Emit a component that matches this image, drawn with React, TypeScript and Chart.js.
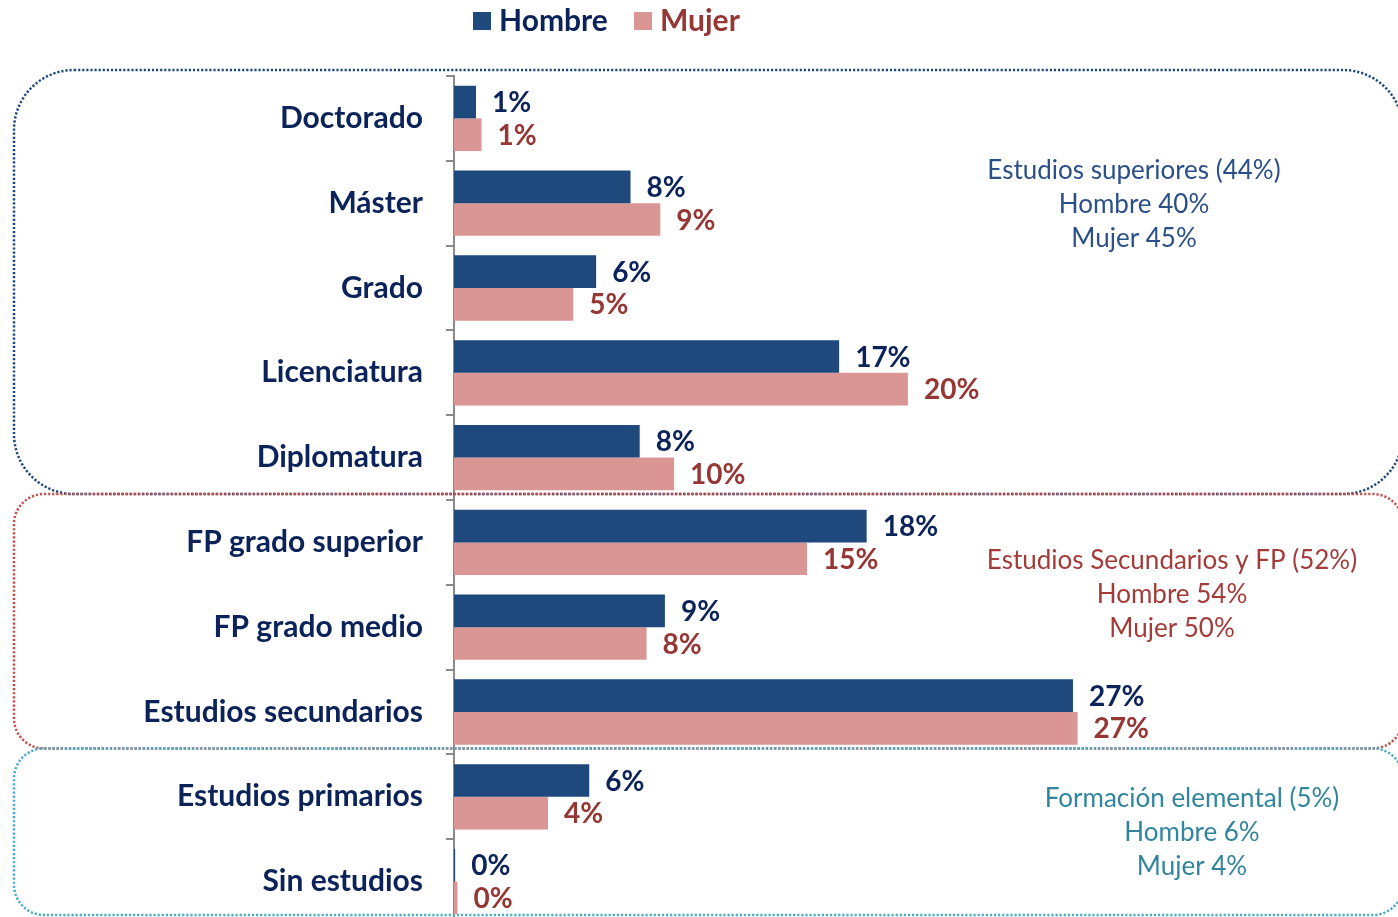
import React, { useEffect, useRef } from "react";
import { Chart, registerables } from "chart.js";
Chart.register(...registerables);

const categories = [
  "Doctorado",
  "Máster",
  "Grado",
  "Licenciatura",
  "Diplomatura",
  "FP grado superior",
  "FP grado medio",
  "Estudios secundarios",
  "Estudios primarios",
  "Sin estudios",
];
const seriesNames = ["Hombre", "Mujer"];
const hombre = [0.96, 7.7, 6.2, 16.8, 8.1, 18.0, 9.2, 27.0, 5.9, 0.05];
const mujer = [1.2, 9.0, 5.2, 19.8, 9.6, 15.4, 8.4, 27.2, 4.1, 0.15];

const groupTexts = [
  ["Estudios superiores (44%)", "Hombre 40%", "Mujer 45%"],
  ["Estudios Secundarios y FP (52%)", "Hombre 54%", "Mujer 50%"],
  ["Formación elemental (5%)", "Hombre 6%", "Mujer 4%"],
];
const groupRanges = [
  [0, 4],
  [5, 7],
  [8, 9],
];

const BAR_COLORS = ["#1F497D", "#D99694"];
const LABEL_COLORS = ["#0B2359", "#953735"];
const CAT_COLOR = "#0B2359";
const BOX_COLORS = ["#1F497D", "#C0504D", "#4BACC6"];
const TEXT_COLORS = ["#2A5087", "#A33B39", "#31859C"];
const BOX_RADII = [60, 30, 30];
const TEXT_POS = [
  [1134, 205],
  [1172, 595],
  [1192, 833],
];
const FONT = "Lato, 'Open Sans', sans-serif";

function roundRect(ctx: CanvasRenderingContext2D, x: number, y: number, w: number, h: number, r: number) {
  ctx.beginPath();
  ctx.moveTo(x + r, y);
  ctx.lineTo(x + w - r, y);
  ctx.arcTo(x + w, y, x + w, y + r, r);
  ctx.lineTo(x + w, y + h - r);
  ctx.arcTo(x + w, y + h, x + w - r, y + h, r);
  ctx.lineTo(x + r, y + h);
  ctx.arcTo(x, y + h, x, y + h - r, r);
  ctx.lineTo(x, y + r);
  ctx.arcTo(x, y, x + r, y, r);
  ctx.closePath();
}

const decorPlugin = {
  id: "decor",
  beforeDatasetsDraw(chart: any) {
    const ctx = chart.ctx as CanvasRenderingContext2D;
    const ys = chart.scales.y;
    const n = categories.length;
    const step = (ys.bottom - ys.top) / n;
    groupRanges.forEach((rg, i) => {
      const top = ys.top + rg[0] * step - 6;
      const bottom = Math.min(ys.top + (rg[1] + 1) * step - 6, 915);
      ctx.save();
      ctx.strokeStyle = BOX_COLORS[i];
      ctx.lineWidth = 2.5;
      ctx.lineCap = "butt";
      ctx.setLineDash([2.2, 1.9]);
      roundRect(ctx, 14, top, 1403 - 14, bottom - top, BOX_RADII[i]);
      ctx.stroke();
      ctx.restore();
    });
    groupTexts.forEach((lines, i) => {
      ctx.save();
      ctx.fillStyle = TEXT_COLORS[i];
      ctx.font = `26px ${FONT}`;
      ctx.textAlign = "center";
      ctx.textBaseline = "middle";
      lines.forEach((t, j) => {
        ctx.fillText(t, TEXT_POS[i][0], TEXT_POS[i][1] + (j - 1) * 34);
      });
      ctx.restore();
    });
  },
  afterDatasetsDraw(chart: any) {
    const ctx = chart.ctx as CanvasRenderingContext2D;
    chart.data.datasets.forEach((ds: any, di: number) => {
      const meta = chart.getDatasetMeta(di);
      meta.data.forEach((el: any, i: number) => {
        ctx.save();
        ctx.fillStyle = LABEL_COLORS[di];
        ctx.font = `bold 28px ${FONT}`;
        ctx.textAlign = "left";
        ctx.textBaseline = "middle";
        ctx.fillText(Math.round(ds.data[i]) + "%", el.x + 16, el.y + 1);
        ctx.restore();
      });
    });
    ctx.save();
    ctx.font = `bold 30px ${FONT}`;
    ctx.textBaseline = "middle";
    ctx.textAlign = "left";
    const legendX = [473, 634];
    seriesNames.forEach((name, i) => {
      ctx.fillStyle = BAR_COLORS[i];
      ctx.fillRect(legendX[i], 12, 18, 18);
      ctx.fillStyle = LABEL_COLORS[i];
      ctx.fillText(name, legendX[i] + 26, 21);
    });
    ctx.restore();
  },
};

export default function App() {
  const ref = useRef<HTMLCanvasElement>(null);
  useEffect(() => {
    if (!ref.current) return;
    const chart = new Chart(ref.current, {
      type: "bar",
      data: {
        labels: categories,
        datasets: [
          { label: seriesNames[0], data: hombre, backgroundColor: BAR_COLORS[0] },
          { label: seriesNames[1], data: mujer, backgroundColor: BAR_COLORS[1] },
        ],
      },
      options: {
        indexAxis: "y",
        responsive: false,
        maintainAspectRatio: false,
        animation: false,
        layout: { padding: { top: 76, right: 27, bottom: 3, left: 0 } },
        datasets: { bar: { barPercentage: 1, categoryPercentage: 0.77 } },
        plugins: { legend: { display: false }, tooltip: { enabled: false } },
        scales: {
          x: { display: false, min: 0, max: 40 },
          y: {
            afterFit: (s: any) => {
              s.width = 454;
            },
            border: { display: true, color: "#8A8A8A", width: 2 },
            grid: {
              drawOnChartArea: false,
              drawTicks: true,
              tickLength: 8,
              offset: true,
              color: "#8A8A8A",
              lineWidth: 2,
            },
            ticks: {
              color: CAT_COLOR,
              padding: 23,
              font: { family: FONT, size: 30, weight: "bold" },
            },
          },
        },
      },
      plugins: [decorPlugin],
    });
    return () => chart.destroy();
  }, []);
  return (
    <div
      style={{
        position: "fixed",
        left: 0,
        top: 0,
        width: 1398,
        height: 917,
        overflow: "hidden",
        background: "#fff",
      }}
    >
      <canvas
        ref={ref}
        width={1398}
        height={965}
        style={{ display: "block", width: 1398, height: 965 }}
      />
    </div>
  );
}
